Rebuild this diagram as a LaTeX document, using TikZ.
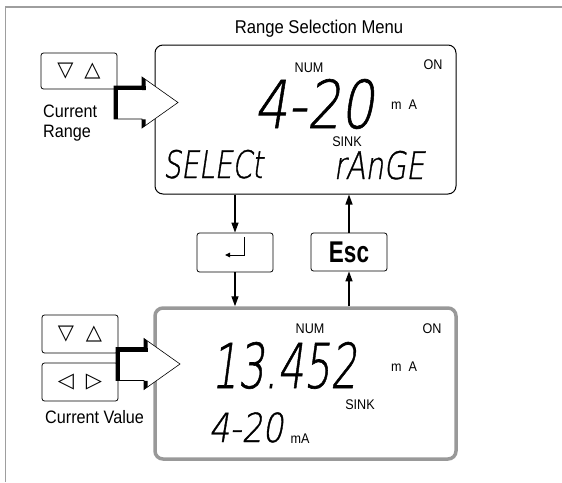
\documentclass[tikz,border=0pt]{standalone}
\usepackage{fontspec}
\setmainfont{Liberation Sans}[FakeStretch=0.9]
\newfontfamily\segfont{DejaVuSans-ExtraLight.ttf}[FakeSlant=0.2, FakeBold=1]
\newfontfamily\symfont{DejaVu Sans}
\newfontfamily\keyfont{Liberation Sans}[FakeStretch=0.75]
\usetikzlibrary{arrows.meta}
\definecolor{framegray}{gray}{0.62}
\definecolor{lcdgray}{gray}{0.6}

\begin{document}
\begin{tikzpicture}[
    x=1pt, y=-1pt,
    lcd/.style={draw, rounded corners=8pt, line width=1pt,
                minimum width=301pt, minimum height=149pt, inner sep=0pt},
    key/.style={draw, rounded corners=2.5pt, line width=0.8pt,
                minimum width=76pt, minimum height=38pt, inner sep=0pt},
    keysym/.style={font=\symfont\fontsize{21}{21}\selectfont},
    small/.style={font=\fontsize{14}{16}\selectfont, inner sep=0pt, anchor=base},
    lbl/.style={font=\fontsize{18}{19.5}\selectfont, inner sep=0pt,
                anchor=north west, align=left},
    seg/.style={inner sep=0pt, anchor=base},
    conn/.style={line width=1.3pt, -{Triangle[length=10pt, width=7pt]}},
    blk/.style={line width=0.6pt, fill=white, line join=miter}
]
\useasboundingbox (0,0) rectangle (562,482);

% ---------- frame ----------
\draw[framegray, line width=1.2pt] (5.5,482) -- (5.5,7) -- (562,7);

\node[font=\fontsize{18.5}{20}\selectfont, inner sep=0pt, anchor=base]
      (title) at (319,33) {Range Selection Menu};

% ---------- displays ----------
\node[lcd] (toplcd) at (305.5,119.5) {};
\node[lcd, draw=lcdgray, line width=3.5pt, minimum height=151pt]
      (botlcd) at (305.5,383.5) {};

% ---------- keys ----------
\node[key, minimum height=36pt, keysym] (rangekey) at (79,71)
      {\raisebox{-2pt}{▽\hspace{11pt}△}};
\node[key, keysym] (valuekey) at (80,334) {▽\hspace{12pt}△};
\node[key, keysym] (digitkey) at (80,382) {◁\hspace{12pt}▷};
\node[key, minimum height=39pt] (enterkey) at (235,252.5) {};
\node[key, font=\keyfont\bfseries\fontsize{30}{30}\selectfont]
      (esckey) at (349,252) {Esc};

\draw[line width=1pt, -{Triangle[length=5pt, width=4.5pt]}]
      ([shift={(9,-15.5)}]enterkey.center) -- ([shift={(9,2.5)}]enterkey.center)
      -- ([shift={(-10,2.5)}]enterkey.center);

\node[lbl] (rangelbl) at (43,105) {Current\\Range};
\node[lbl] (valuelbl) at (45,410) {Current Value};

% ---------- block arrows ----------
\foreach \ax/\ay in {114/102.5, 116/364} {
  \begin{scope}[shift={(\ax,\ay)}]
    \draw[blk] (0,-16.5) -- (28,-16.5) -- (28,-25.5) -- (64,0) -- (28,25.5)
          -- (28,16.5) -- (0,16.5) -- cycle;
    \fill (0,-16.5) rectangle (31.5,-12.5);
    \fill (0,-16.5) rectangle (4,16.5);
    \fill (28,-25.5) -- (31.5,-23) -- (31.5,-12.5) -- (28,-12.5) -- cycle;
    \fill (28,16.8) -- (31.5,16.8) -- (31.5,23) -- (28,25.5) -- cycle;
  \end{scope}
}

% ---------- upper display texts ----------
\node[small] (topnum) at (309,72) {NUM};
\node[small] (topon) at (433,69) {ON};
\node[small] (topunit) at (404,109) {m\enspace A};
\node[small] (topsink) at (347,146) {SINK};
\node[seg, font=\segfont\fontsize{66}{66}\selectfont, xscale=0.8]
      (toprange) at (314,128) {4-20};
\node[seg, font=\segfont\fontsize{38}{38}\selectfont, xscale=0.74]
      (selectword) at (213,178) {SELECt};
\node[seg, font=\segfont\fontsize{38}{38}\selectfont, xscale=0.76]
      (rangeword) at (379,179) {rAnGE};

% ---------- lower display texts ----------
\node[small] (botnum) at (310,333) {NUM};
\node[small] (boton) at (432,333) {ON};
\node[small] (botunit) at (404,371) {m\enspace A};
\node[small] (botsink) at (360,409) {SINK};
\node[small] (botma) at (300,443) {mA};
\node[seg, font=\segfont\fontsize{62}{62}\selectfont, xscale=0.67]
      (value) at (284,388) {13.452};
\node[seg, font=\segfont\fontsize{40}{40}\selectfont, xscale=0.82]
      (botrange) at (246,442) {4-20};

% ---------- connectors ----------
\draw[conn] (enterkey.north |- toplcd.south) -- (enterkey.north);
\draw[conn] (esckey.north) -- (esckey.north |- toplcd.south);
\draw[conn] (enterkey.south) -- (enterkey.south |- botlcd.north);
\draw[conn] (esckey.south |- botlcd.north) -- (esckey.south);

\end{tikzpicture}
\end{document}
